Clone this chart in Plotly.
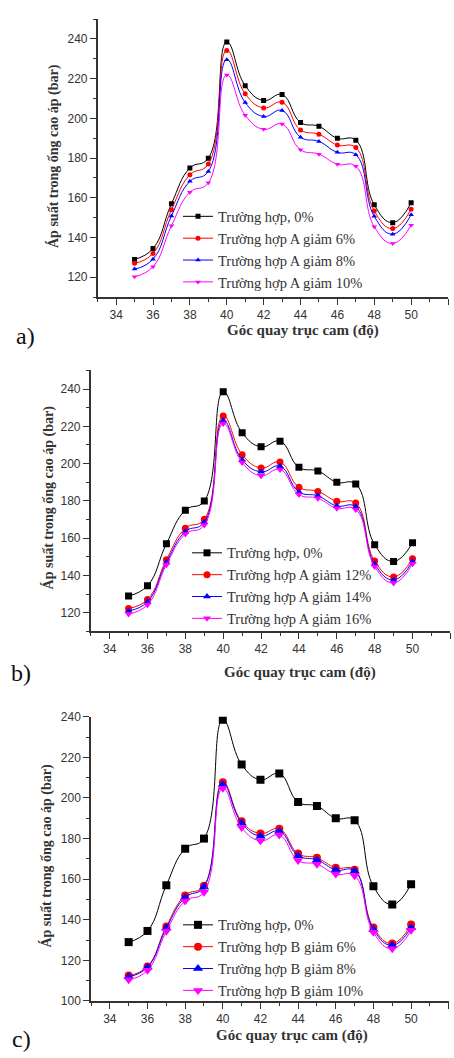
import plotly.graph_objects as go

# ---------------- data ----------------
angles = [35, 36, 37, 38, 39, 40, 41, 42, 43, 44, 45, 46, 47, 48, 49, 50]

base_0 = [129, 134.5, 157, 175, 180, 238.5, 216.5, 209, 212, 198, 196, 190, 189, 156.5, 147.5, 157.5]

a_6 = [127, 132, 154, 171.6, 177, 234.2, 212.4, 205.3, 208.1, 194.2, 192, 186.6, 185.3, 153.4, 144.5, 154.3]
a_8 = [124.1, 129.1, 150.9, 168.3, 173.3, 229.6, 208, 201, 204, 190.5, 188.4, 182.9, 181.7, 150.7, 141.7, 151.5]
a_10 = [120.3, 125.3, 146, 162.8, 167.6, 221.9, 201.6, 194.5, 197.2, 184.2, 182, 176.9, 175.9, 145.5, 137, 146.2]

a_12 = [122.3, 127.1, 148.4, 165.3, 170.1, 225.6, 204.8, 197.7, 200.8, 187.3, 185.1, 179.8, 178.8, 147.7, 139.2, 148.9]
a_14 = [120.9, 125.9, 147, 163.5, 168.5, 223.1, 202, 195.6, 198.6, 184.8, 182.7, 177.3, 176.8, 146.1, 137.6, 147.5]
a_16 = [119.3, 124.3, 145.7, 162.2, 167, 221.5, 200.6, 193.5, 196.9, 183.4, 181.4, 176.1, 175.4, 144.8, 136, 146.3]

b_6 = [112.5, 117, 136.7, 152, 156.8, 207.7, 188.5, 182.5, 184.8, 172.6, 170.5, 165.6, 164.6, 136.2, 128.3, 137.7]
b_8 = [111.9, 116.6, 135.9, 151, 156.2, 206.7, 187.7, 181.2, 183.6, 171.6, 169.5, 164.6, 164, 135.2, 127.4, 136.2]
b_10 = [110.4, 115.1, 134.3, 149.2, 153.6, 204.8, 185.4, 178.9, 181.7, 169.2, 167.4, 162.5, 161.7, 133.8, 125.7, 134.8]

labels_a = ["Trường hợp, 0%", "Trường hợp A giảm 6%", "Trường hợp A giảm 8%", "Trường hợp A giảm 10%"]
labels_b = ["Trường hợp, 0%", "Trường hợp A giảm 12%", "Trường hợp A giảm 14%", "Trường hợp A giảm 16%"]
labels_c = ["Trường hợp, 0%", "Trường hợp B giảm 6%", "Trường hợp B giảm 8%", "Trường hợp B giảm 10%"]

x_title = "Góc quay trục cam (độ)"
y_title = "Áp suất trong ống cao áp (bar)"
x_ticks = [34, 36, 38, 40, 42, 44, 46, 48, 50, 52]

# ---------------- styles ----------------
colors = ["#000000", "#ff0000", "#0000ff", "#ff00ff"]
symbols = ["square", "circle", "triangle-up", "triangle-down"]
SERIF = "Liberation Serif, Times New Roman, serif"
SANS = "Liberation Sans, Arial, sans-serif"
W, H = 454, 1058

panels = [
    dict(series=[base_0, a_6, a_8, a_10], labels=labels_a, msize=[5, 5, 5, 5], xa="x", ya="y",
         legend="legend", xdom=[97.7, 448], ydom=[12.3, 294], yr=[110, 250], yt=[120, 140, 160, 180, 200, 220, 240],
         leg=(178, 196), tag="a)", tagpos=(25, 333), xt=(303, 328), yttl=(53, 151)),
    dict(series=[base_0, a_12, a_14, a_16], labels=labels_b, msize=[7, 7, 7, 7], xa="x2", ya="y2",
         legend="legend2", xdom=[90.7, 450.4], ydom=[368.3, 632.7], yr=[110, 250], yt=[120, 140, 160, 180, 200, 220, 240],
         leg=(187, 537), tag="b)", tagpos=(21, 675), xt=(300, 674), yttl=(48, 497)),
    dict(series=[base_0, b_6, b_8, b_10], labels=labels_c, msize=[8, 8, 9, 9], xa="x3", ya="y3",
         legend="legend3", xdom=[91, 448.75], ydom=[719.3, 1007.3], yr=[100, 240], yt=[100, 120, 140, 160, 180, 200, 220, 240],
         leg=(178, 914), tag="c)", tagpos=(21, 1046), xt=(292, 1042), yttl=(47, 860)),
]

fig = go.Figure()
layout = dict(width=W, height=H, margin=dict(l=0, r=0, t=0, b=0),
              paper_bgcolor="white", plot_bgcolor="white", showlegend=True)
annotations = []

for i, p in enumerate(panels):
    for j, ys in enumerate(p["series"]):
        fig.add_trace(go.Scatter(
            x=angles, y=ys, name=p["labels"][j], mode="lines+markers",
            line=dict(color=colors[j], width=1, shape="spline", smoothing=1.3),
            marker=dict(symbol=symbols[j], size=p["msize"][j], color=colors[j]),
            xaxis=p["xa"], yaxis=p["ya"], legend=p["legend"], cliponaxis=True,
        ))
    sfx = "" if i == 0 else str(i + 1)
    axcommon = dict(showgrid=False, zeroline=False, showline=True, linecolor="#333", linewidth=1.5,
                    ticks="outside", ticklen=6, tickwidth=1.2, tickcolor="#333",
                    tickfont=dict(family=SANS, size=12, color="#333"))
    layout["xaxis" + sfx] = dict(axcommon, domain=[p["xdom"][0] / W, p["xdom"][1] / W],
                                 range=[33, 52], tickvals=x_ticks, anchor="y" + sfx,
                                 minor=dict(ticks="outside", ticklen=3, dtick=1, tick0=33, tickcolor="#333"))
    layout["yaxis" + sfx] = dict(axcommon, domain=[1 - p["ydom"][1] / H, 1 - p["ydom"][0] / H],
                                 range=p["yr"], tickvals=p["yt"], anchor="x" + sfx,
                                 minor=dict(ticks="outside", ticklen=3, dtick=10, tick0=110, tickcolor="#333"))
    layout[p["legend"]] = dict(x=p["leg"][0] / W, y=1 - p["leg"][1] / H, xanchor="left", yanchor="top",
                               bgcolor="rgba(0,0,0,0)", font=dict(family=SERIF, size=14.5, color="#333"),
                               tracegroupgap=0, itemwidth=30)
    annotations.append(dict(text="<b>" + x_title + "</b>", x=p["xt"][0] / W, y=1 - p["xt"][1] / H,
                            xref="paper", yref="paper", showarrow=False, xanchor="center", yanchor="middle",
                            font=dict(family=SERIF, size=15, color="#333")))
    annotations.append(dict(text="<b>" + y_title + "</b>", x=p["yttl"][0] / W, y=1 - p["yttl"][1] / H,
                            xref="paper", yref="paper", showarrow=False, textangle=-90,
                            xanchor="center", yanchor="middle",
                            font=dict(family=SERIF, size=14, color="#333")))
    annotations.append(dict(text=p["tag"], x=p["tagpos"][0] / W, y=1 - p["tagpos"][1] / H,
                            xref="paper", yref="paper", showarrow=False, xanchor="center", yanchor="middle",
                            font=dict(family=SERIF, size=24, color="#111")))

layout["annotations"] = annotations
fig.update_layout(**layout)
fig.write_html("out.html")
